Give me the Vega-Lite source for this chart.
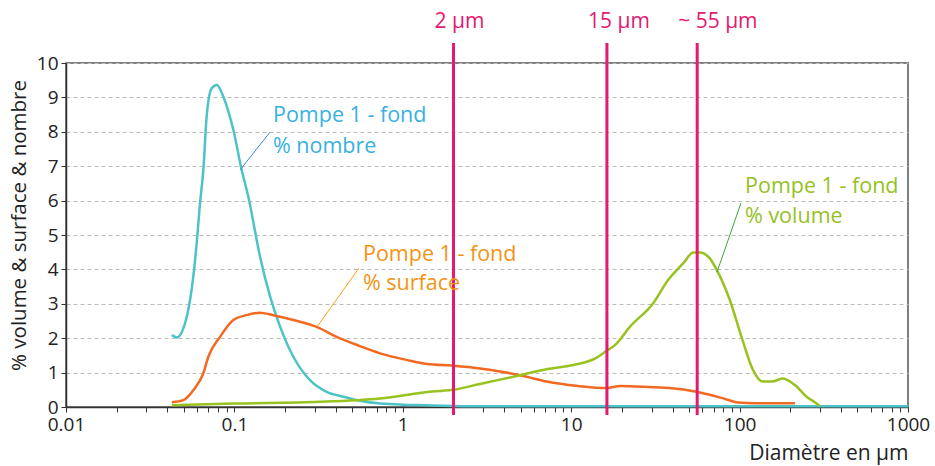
{
  "$schema": "https://vega.github.io/schema/vega-lite/v6.json",
  "autosize": "none",
  "width": 842,
  "height": 344,
  "padding": {"left": 66, "top": 63, "right": 27, "bottom": 59},
  "background": "white",
  "config": {
    "font": "Open Sans",
    "view": {"stroke": "#555555", "strokeWidth": 1.5},
    "axis": {"labelFont": "Open Sans", "titleFont": "Open Sans", "labelOverlap": false, "tickSize": 5, "tickColor": "#333333", "domainColor": "#333333", "domainWidth": 1.5, "labelFontSize": 19, "labelColor": "#222222", "labelPadding": 3, "labelFlush": false, "titleFontWeight": "normal", "titleColor": "#222222"},
    "axisX": {"grid": false, "titleFontSize": 21, "titleAnchor": "end", "titlePadding": 8},
    "axisY": {"grid": true, "gridDash": [4, 3], "gridColor": "#bbbbbb", "titleFontSize": 20.5, "titleX": -47, "titleY": 162, "titleBaseline": "middle", "titleAlign": "center"}
  },
  "datasets": {
    "curves": [
      {"s": "nombre", "d": 0.0425, "v": 2.09},
      {"s": "nombre", "d": 0.0454, "v": 2.02},
      {"s": "nombre", "d": 0.0521, "v": 2.62},
      {"s": "nombre", "d": 0.057, "v": 3.79},
      {"s": "nombre", "d": 0.0597, "v": 4.76},
      {"s": "nombre", "d": 0.0625, "v": 5.93},
      {"s": "nombre", "d": 0.0654, "v": 6.89},
      {"s": "nombre", "d": 0.0684, "v": 8.44},
      {"s": "nombre", "d": 0.0732, "v": 9.26},
      {"s": "nombre", "d": 0.0786, "v": 9.36},
      {"s": "nombre", "d": 0.086, "v": 9.02},
      {"s": "nombre", "d": 0.0986, "v": 8.05},
      {"s": "nombre", "d": 0.1105, "v": 6.89},
      {"s": "nombre", "d": 0.121, "v": 6.11},
      {"s": "nombre", "d": 0.142, "v": 4.37},
      {"s": "nombre", "d": 0.163, "v": 3.21},
      {"s": "nombre", "d": 0.187, "v": 2.33},
      {"s": "nombre", "d": 0.224, "v": 1.46},
      {"s": "nombre", "d": 0.281, "v": 0.78},
      {"s": "nombre", "d": 0.353, "v": 0.44},
      {"s": "nombre", "d": 0.444, "v": 0.3},
      {"s": "nombre", "d": 0.557, "v": 0.18},
      {"s": "nombre", "d": 0.733, "v": 0.1},
      {"s": "nombre", "d": 1.15, "v": 0.06},
      {"s": "nombre", "d": 1.5, "v": 0.04},
      {"s": "nombre", "d": 2.5, "v": 0.02},
      {"s": "nombre", "d": 4, "v": 0.02},
      {"s": "nombre", "d": 1000, "v": 0.02},
      {"s": "surface", "d": 0.0425, "v": 0.14},
      {"s": "surface", "d": 0.0498, "v": 0.2},
      {"s": "surface", "d": 0.057, "v": 0.49},
      {"s": "surface", "d": 0.0654, "v": 0.98},
      {"s": "surface", "d": 0.07, "v": 1.46},
      {"s": "surface", "d": 0.0822, "v": 2.04},
      {"s": "surface", "d": 0.0986, "v": 2.53},
      {"s": "surface", "d": 0.118, "v": 2.67},
      {"s": "surface", "d": 0.142, "v": 2.74},
      {"s": "surface", "d": 0.17, "v": 2.67},
      {"s": "surface", "d": 0.224, "v": 2.53},
      {"s": "surface", "d": 0.308, "v": 2.33},
      {"s": "surface", "d": 0.405, "v": 2.04},
      {"s": "surface", "d": 0.557, "v": 1.77},
      {"s": "surface", "d": 0.733, "v": 1.56},
      {"s": "surface", "d": 1.05, "v": 1.37},
      {"s": "surface", "d": 1.39, "v": 1.25},
      {"s": "surface", "d": 2.0, "v": 1.2},
      {"s": "surface", "d": 2.87, "v": 1.12},
      {"s": "surface", "d": 3.78, "v": 1.03},
      {"s": "surface", "d": 5.44, "v": 0.88},
      {"s": "surface", "d": 7.15, "v": 0.74},
      {"s": "surface", "d": 11.0, "v": 0.61},
      {"s": "surface", "d": 16.3, "v": 0.55},
      {"s": "surface", "d": 19.5, "v": 0.61},
      {"s": "surface", "d": 26.8, "v": 0.59},
      {"s": "surface", "d": 46.3, "v": 0.51},
      {"s": "surface", "d": 58.2, "v": 0.42},
      {"s": "surface", "d": 80, "v": 0.25},
      {"s": "surface", "d": 98, "v": 0.13},
      {"s": "surface", "d": 123, "v": 0.11},
      {"s": "surface", "d": 213, "v": 0.11},
      {"s": "volume", "d": 0.0425, "v": 0.05},
      {"s": "volume", "d": 0.1, "v": 0.1},
      {"s": "volume", "d": 0.32, "v": 0.15},
      {"s": "volume", "d": 0.733, "v": 0.25},
      {"s": "volume", "d": 1.5, "v": 0.45},
      {"s": "volume", "d": 2.0, "v": 0.5},
      {"s": "volume", "d": 2.87, "v": 0.67},
      {"s": "volume", "d": 4.54, "v": 0.88},
      {"s": "volume", "d": 7.15, "v": 1.1},
      {"s": "volume", "d": 10.3, "v": 1.22},
      {"s": "volume", "d": 14.0, "v": 1.42},
      {"s": "volume", "d": 16.3, "v": 1.64},
      {"s": "volume", "d": 18.2, "v": 1.8},
      {"s": "volume", "d": 22.3, "v": 2.33},
      {"s": "volume", "d": 30.6, "v": 3.01},
      {"s": "volume", "d": 37.6, "v": 3.69},
      {"s": "volume", "d": 46.3, "v": 4.18},
      {"s": "volume", "d": 53.1, "v": 4.49},
      {"s": "volume", "d": 58.2, "v": 4.49},
      {"s": "volume", "d": 66.5, "v": 4.32},
      {"s": "volume", "d": 74.2, "v": 3.93},
      {"s": "volume", "d": 87.5, "v": 3.11},
      {"s": "volume", "d": 102.6, "v": 2.04},
      {"s": "volume", "d": 120, "v": 1.08},
      {"s": "volume", "d": 137, "v": 0.74},
      {"s": "volume", "d": 156.6, "v": 0.74},
      {"s": "volume", "d": 179.5, "v": 0.83},
      {"s": "volume", "d": 213, "v": 0.64},
      {"s": "volume", "d": 250, "v": 0.3},
      {"s": "volume", "d": 285, "v": 0.11},
      {"s": "volume", "d": 300, "v": 0.03}
    ],
    "marks": [
      {"d": 2.0, "label": "2 µm"},
      {"d": 16.3, "label": "15 µm"},
      {"d": 56, "label": "~ 55 µm"}
    ],
    "leaders": [
      {"s": "nombre", "d": 0.1627, "v": 7.99, "d2": 0.108, "v2": 6.89},
      {"s": "surface", "d": 0.5495, "v": 4.04, "d2": 0.3094, "v2": 2.33},
      {"s": "volume", "d": 101.9, "v": 5.93, "d2": 73.4, "v2": 3.92}
    ],
    "notes": [
      {"s": "nombre", "d": 0.1695, "v": 8.46, "label": "Pompe 1 - fond"},
      {"s": "nombre", "d": 0.1695, "v": 7.56, "label": "% nombre"},
      {"s": "surface", "d": 0.58, "v": 4.42, "label": "Pompe 1 - fond"},
      {"s": "surface", "d": 0.58, "v": 3.58, "label": "% surface"},
      {"s": "volume", "d": 107.7, "v": 6.4, "label": "Pompe 1 - fond"},
      {"s": "volume", "d": 107.7, "v": 5.52, "label": "% volume"}
    ]
  },
  "encoding": {
    "x": {
      "field": "d", "type": "quantitative",
      "scale": {"type": "log", "domain": [0.01, 1000]},
      "axis": {
        "values": [0.01,0.02,0.03,0.04,0.05,0.06,0.07,0.08,0.09,0.1,0.2,0.3,0.4,0.5,0.6,0.7,0.8,0.9,1,2,3,4,5,6,7,8,9,10,20,30,40,50,60,70,80,90,100,200,300,400,500,600,700,800,900,1000],
        "labelExpr": "indexof([0.01,0.1,1,10,100,1000], datum.value) >= 0 ? format(datum.value, '~g') : ''",
        "labelOverlap": false,
        "title": "Diamètre en µm"
      }
    }
  },
  "layer": [
    {
      "data": {"name": "curves"},
      "mark": {"type": "line", "strokeWidth": 2.5, "interpolate": "monotone"},
      "encoding": {
        "y": {"field": "v", "type": "quantitative", "scale": {"domain": [0, 10], "nice": false}, "axis": {"values": [0,1,2,3,4,5,6,7,8,9,10], "labelOverlap": false, "title": "% volume & surface & nombre"}},
        "color": {
          "field": "s", "type": "nominal",
          "scale": {"domain": ["nombre", "surface", "volume"], "range": ["#4cc3c8", "#f26a21", "#98c21f"]},
          "legend": null
        }
      }
    },
    {
      "data": {"name": "marks"},
      "mark": {"type": "rule", "color": "#e4196f", "strokeWidth": 3},
      "encoding": {
        "y": {"datum": -0.23, "type": "quantitative", "scale": {"domain": [0, 10], "nice": false}, "axis": {"values": [0,1,2,3,4,5,6,7,8,9,10], "labelOverlap": false, "title": "% volume & surface & nombre"}},
        "y2": {"datum": 10.58}
      }
    },
    {
      "data": {"name": "marks"},
      "mark": {"type": "text", "color": "#e4196f", "fontSize": 21, "align": "left", "baseline": "middle", "dx": -19},
      "encoding": {
        "y": {"datum": 11.19, "type": "quantitative", "scale": {"domain": [0, 10], "nice": false}, "axis": {"values": [0,1,2,3,4,5,6,7,8,9,10], "labelOverlap": false, "title": "% volume & surface & nombre"}},
        "text": {"field": "label"}
      }
    },
    {
      "data": {"name": "leaders"},
      "mark": {"type": "rule", "strokeWidth": 1},
      "encoding": {
        "y": {"field": "v", "type": "quantitative", "scale": {"domain": [0, 10], "nice": false}, "axis": {"values": [0,1,2,3,4,5,6,7,8,9,10], "labelOverlap": false, "title": "% volume & surface & nombre"}},
        "x2": {"field": "d2"},
        "y2": {"field": "v2"},
        "color": {"field": "s", "type": "nominal", "scale": {"domain": ["nombre", "surface", "volume"], "range": ["#3b8fd0", "#f7a21b", "#3aa935"]}, "legend": null}
      }
    },
    {
      "data": {"name": "notes"},
      "mark": {"type": "text", "fontSize": 21.5, "align": "left", "baseline": "middle"},
      "encoding": {
        "y": {"field": "v", "type": "quantitative", "scale": {"domain": [0, 10], "nice": false}, "axis": {"values": [0,1,2,3,4,5,6,7,8,9,10], "labelOverlap": false, "title": "% volume & surface & nombre"}},
        "text": {"field": "label"},
        "color": {"field": "s", "type": "nominal", "scale": {"domain": ["nombre", "surface", "volume"], "range": ["#38b1e1", "#f39314", "#95c11f"]}, "legend": null}
      }
    }
  ],
  "resolve": {"scale": {"color": "independent"}}
}
